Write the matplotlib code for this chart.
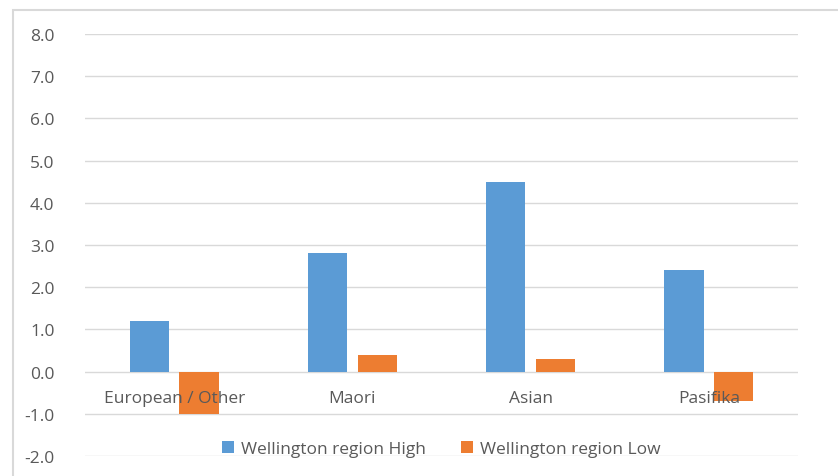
import numpy as np
import matplotlib.pyplot as plt
from matplotlib.patches import Rectangle

plt.rcParams['font.family'] = ['Open Sans', 'DejaVu Sans']

categories = ["European / Other", "Maori", "Asian", "Pasifika"]
high_values = [1.2, 2.8, 4.5, 2.4]
low_values = [-1.0, 0.4, 0.3, -0.7]
series_names = ["Wellington region High", "Wellington region Low"]

text_col = '#595959'
grid_col = '#d9d9d9'

fig = plt.figure(figsize=(8.38, 4.77), dpi=100)
ax = fig.add_axes([85 / 838, 20 / 477, 713 / 838, 422 / 477])

# outer chart frame (cropped on right and bottom)
fig.patches.append(Rectangle((13 / 838, -0.1), 1.2, (477 - 11) / 477 + 0.1,
                             transform=fig.transFigure, fill=False,
                             edgecolor=grid_col, linewidth=1.5))

x = np.arange(len(categories))
w = 0.22
ax.bar(x - 0.14, high_values, w, color='#5b9bd5', label=series_names[0], zorder=2)
ax.bar(x + 0.14, low_values, w, color='#ed7d31', label=series_names[1], zorder=2)

ax.set_xlim(-0.5, len(categories) - 0.5)
ax.set_ylim(-2, 8)
ax.set_yticks(np.arange(-2, 9, 1))
ax.set_yticklabels(["%.1f" % v for v in np.arange(-2, 9, 1)])
ax.yaxis.grid(True, color=grid_col, linewidth=1, zorder=0)
ax.set_axisbelow(True)
ax.set_xticks([])
for s in ax.spines.values():
    s.set_visible(False)
ax.tick_params(axis='y', length=0, pad=22, labelsize=12.5, labelcolor=text_col)

# category labels sit just under the zero line, over the bars
for i, c in enumerate(categories):
    ax.text(i, -0.62, c, ha='center', va='center', fontsize=12.5,
            color=text_col, zorder=5)

ax.legend(loc='center', bbox_to_anchor=(0.5, 0.016), bbox_transform=ax.transAxes,
          ncol=2, frameon=False, fontsize=12.5, labelcolor=text_col,
          handlelength=0.7, handleheight=0.7, handletextpad=0.4, columnspacing=2.0,
          borderpad=0, borderaxespad=0)

fig.savefig('out.png', dpi=100)
